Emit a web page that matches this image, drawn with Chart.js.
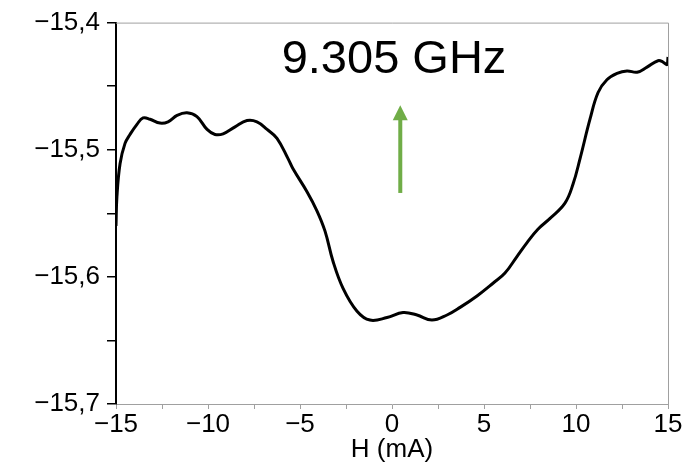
<!DOCTYPE html>
<html>
<head>
<meta charset="utf-8">
<script src="https://cdn.jsdelivr.net/npm/chart.js@4/dist/chart.umd.min.js"></script>
<style>
  html, body { margin: 0; padding: 0; background: #fff; }
  #wrap { width: 695px; height: 470px; position: relative; }
</style>
</head>
<body>
<div id="wrap"><canvas id="chart"></canvas></div>
<script>
// H (mA) values
const fieldH = [-15.0, -14.95, -14.78, -14.51, -14.24, -13.86, -13.53, -13.15, -12.61, -12.17,
  -11.68, -11.14, -10.60, -10.05, -9.62, -9.18, -8.53, -7.88, -7.34, -6.79,
  -6.25, -5.65, -5.38, -4.62, -4.08, -3.64, -3.21, -2.66, -1.90, -1.20,
  -0.27, 0.60, 1.36, 2.17, 2.99, 3.70, 4.62, 5.49, 6.14, 6.79,
  7.34, 7.93, 8.59, 9.40, 9.84, 10.22, 10.76, 11.20, 11.68, 12.23,
  12.77, 13.32, 13.86, 14.46, 14.73, 14.95, 15.0];
// signal
const signal = [-15.560, -15.537, -15.511, -15.495, -15.488, -15.480, -15.475, -15.476, -15.479, -15.478,
  -15.473, -15.471, -15.474, -15.484, -15.488, -15.4875, -15.482, -15.477, -15.478, -15.484,
  -15.491, -15.507, -15.515, -15.533, -15.548, -15.564, -15.5875, -15.609, -15.627, -15.634,
  -15.632, -15.628, -15.630, -15.634, -15.630, -15.624, -15.615, -15.605, -15.597, -15.584,
  -15.573, -15.5625, -15.554, -15.542, -15.527, -15.507, -15.476, -15.455, -15.445, -15.440,
  -15.438, -15.439, -15.435, -15.430, -15.431, -15.433, -15.427];

const freqLabel = '9.305 GHz';
const axisTitle = 'H (mA)';
const xRange = [-15, 15];
const yRange = [-15.7, -15.4];
const arrowFrom = [0.45, -15.534];
const arrowTo = [0.45, -15.465];

const fontFamily = '"Liberation Sans", Arial, sans-serif';

function fmt(v, digits) {
  return v.toFixed(digits).replace('.', ',').replace('-', '\u2212');
}

// gray frame on top/right, label and arrow
const extras = {
  id: 'extras',
  afterDraw(chart) {
    const ctx = chart.ctx;
    const a = chart.chartArea;
    const xs = chart.scales.x, ys = chart.scales.y;
    ctx.save();
    ctx.strokeStyle = '#a0a0a0';
    ctx.lineWidth = 1;
    ctx.beginPath();
    ctx.moveTo(a.left, a.top + 0.5);
    ctx.lineTo(a.right + 0.5, a.top + 0.5);
    ctx.lineTo(a.right + 0.5, a.bottom);
    ctx.stroke();

    ctx.fillStyle = '#000';
    ctx.font = '47px ' + fontFamily;
    ctx.textAlign = 'center';
    ctx.textBaseline = 'alphabetic';
    ctx.fillText(freqLabel, 394, 73);

    const x1 = xs.getPixelForValue(arrowFrom[0]);
    const y1 = ys.getPixelForValue(arrowFrom[1]);
    const y2 = ys.getPixelForValue(arrowTo[1]);
    ctx.strokeStyle = '#70ad47';
    ctx.fillStyle = '#70ad47';
    ctx.lineWidth = 4;
    ctx.beginPath();
    ctx.moveTo(x1, y1);
    ctx.lineTo(x1, y2 + 12);
    ctx.stroke();
    ctx.beginPath();
    ctx.moveTo(x1, y2);
    ctx.lineTo(x1 - 7.5, y2 + 15);
    ctx.lineTo(x1 + 7.5, y2 + 15);
    ctx.closePath();
    ctx.fill();
    ctx.restore();
  }
};

new Chart(document.getElementById('chart'), {
  type: 'line',
  data: {
    labels: fieldH,
    datasets: [{
      data: fieldH.map((h, i) => ({ x: h, y: signal[i] })),
      borderColor: '#000',
      borderWidth: 3,
      pointRadius: 0,
      tension: 0.4,
      fill: false
    }]
  },
  options: {
    responsive: true,
    maintainAspectRatio: false,
    animation: false,
    layout: { padding: { top: 20, right: 27, left: 0, bottom: 0 } },
    plugins: { legend: { display: false }, tooltip: { enabled: false } },
    scales: {
      x: {
        type: 'linear',
        min: xRange[0],
        max: xRange[1],
        afterFit(scale) { scale.height = 66; },
        ticks: {
          stepSize: 2.5,
          autoSkip: false,
          maxRotation: 0,
          padding: 0,
          color: '#000',
          font: { family: fontFamily, size: 26 },
          callback: v => (Math.abs(v % 5) < 1e-6 ? fmt(v, 0) : '')
        },
        grid: { drawOnChartArea: false, drawTicks: true, tickLength: 5, color: '#a0a0a0' },
        border: { color: '#a0a0a0', width: 1 },
        title: {
          display: true,
          text: axisTitle,
          color: '#000',
          font: { family: fontFamily, size: 26 },
          padding: { top: 0, bottom: 5 }
        }
      },
      y: {
        type: 'linear',
        min: yRange[0],
        max: yRange[1],
        afterFit(scale) { scale.width = 116; },
        ticks: {
          stepSize: 0.05,
          autoSkip: false,
          padding: 7,
          color: '#000',
          font: { family: fontFamily, size: 26 },
          callback: v => (Math.abs(Math.round(v * 10) - v * 10) < 1e-6 ? fmt(v, 1) : '')
        },
        grid: { drawOnChartArea: false, drawTicks: true, tickLength: 9, color: '#000', lineWidth: 1.5 },
        border: { color: '#000', width: 2 }
      }
    }
  },
  plugins: [extras]
});
</script>
</body>
</html>
